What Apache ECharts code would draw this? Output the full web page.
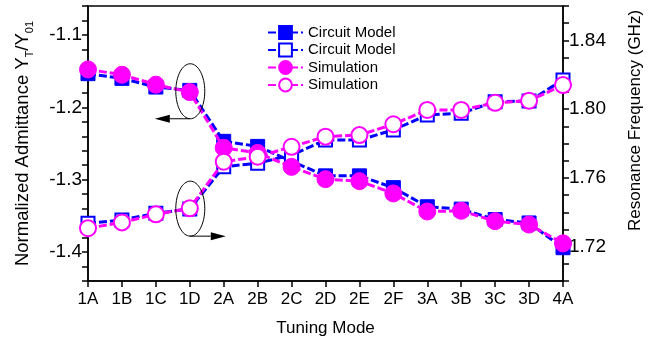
<!DOCTYPE html>
<html>
<head>
<meta charset="utf-8">
<script src="https://cdn.jsdelivr.net/npm/echarts@6/dist/echarts.min.js"></script>
<style>
html,body{margin:0;padding:0;background:#fff;}
#c{width:658px;height:345px;}
</style>
</head>
<body>
<div id="c"></div>
<script>
var categories = ['1A','1B','1C','1D','2A','2B','2C','2D','2E','2F','3A','3B','3C','3D','4A'];
var circuitAdm = [-1.1535,-1.160,-1.172,-1.1766,-1.247,-1.254,-1.2745,-1.2947,-1.2947,-1.311,-1.3374,-1.3407,-1.355,-1.3598,-1.394];
var simAdm     = [-1.1476,-1.155,-1.1687,-1.179,-1.256,-1.263,-1.2823,-1.2993,-1.302,-1.319,-1.344,-1.343,-1.3573,-1.362,-1.388];
var circuitFreq = [1.7336,1.7355,1.7394,1.7419,1.7665,1.7685,1.7733,1.7820,1.7820,1.7879,1.7966,1.7976,1.8043,1.8047,1.8170];
var simFreq     = [1.7307,1.7341,1.7388,1.7423,1.7694,1.7723,1.7781,1.7840,1.7849,1.7912,1.7995,1.7995,1.8037,1.8049,1.8140];
var legendLabels = {cmA:'Circuit Model', cmF:'Circuit Model', simA:'Simulation', simF:'Simulation'};

var BLUE = '#0000FF', MAG = '#FF00FF', FONT = 'Liberation Sans';
var chart = echarts.init(document.getElementById('c'));

function mkSeries(name, data, yIdx, color, symbol, size, filled, z) {
  return {
    name: name, type: 'line', data: data, yAxisIndex: yIdx,
    symbol: symbol, symbolSize: size, showAllSymbol: true, z: z,
    lineStyle: {color: color, width: 3, type: [8, 3]},
    itemStyle: {color: filled ? color : '#fff', borderColor: color, borderWidth: filled ? 1 : 2},
    emphasis: {disabled: true}, animation: false
  };
}

chart.setOption({
  animation: false,
  grid: {left: 88, right: 95, top: 6, bottom: 64, show: true, borderColor: '#000', borderWidth: 1.5, backgroundColor: 'transparent'},
  legend: {
    orient: 'vertical', left: 267, top: 25, padding: 0, itemWidth: 35, itemHeight: 16, itemGap: 2.5,
    data: ['cmA','cmF','simA','simF'],
    formatter: function (n) { return legendLabels[n]; },
    textStyle: {fontFamily: FONT, fontSize: 15, color: '#000'},
    selectedMode: false
  },
  xAxis: {
    type: 'category', data: categories, boundaryGap: false,
    name: 'Tuning Mode', nameLocation: 'middle', nameGap: 39,
    nameTextStyle: {fontFamily: FONT, fontSize: 17, color: '#000'},
    axisLine: {lineStyle: {color: '#000', width: 1.5}},
    axisTick: {show: true, length: 6, lineStyle: {color: '#000', width: 1.5}},
    axisLabel: {fontFamily: FONT, fontSize: 17, color: '#000', margin: 10, interval: 0},
    splitLine: {show: false}
  },
  yAxis: [{
    type: 'value', min: -1.44, max: -1.06, interval: 0.02, position: 'left',
    name: '{a|Normalized Admittance Y}{s|T}{a|/Y}{s|01}', nameLocation: 'middle', nameGap: 53, nameRotate: 90,
    nameTextStyle: {rich: {
      a: {fontFamily: FONT, fontSize: 18.5, color: '#000', lineHeight: 24, verticalAlign: 'middle'},
      s: {fontFamily: FONT, fontSize: 11, color: '#000', lineHeight: 12, verticalAlign: 'bottom'}
    }},
    axisLine: {show: true, lineStyle: {color: '#000', width: 1.5}},
    axisTick: {show: true, length: 6, lineStyle: {color: '#000', width: 1.5}},
    axisLabel: {fontFamily: FONT, fontSize: 19, color: '#000', margin: 6,
      formatter: function (v) { var t = v * 10; return Math.abs(t - Math.round(t)) < 1e-6 ? v.toFixed(1) : ''; }},
    splitLine: {show: false}
  }, {
    type: 'value', min: 1.70, max: 1.86, interval: 0.01, position: 'right',
    name: 'Resonance Frequency (GHz)', nameLocation: 'middle', nameGap: 64, nameRotate: 90,
    nameTextStyle: {fontFamily: FONT, fontSize: 17, color: '#000', padding: [0, 0, 0, 46]},
    axisLine: {show: true, lineStyle: {color: '#000', width: 1.5}},
    axisTick: {show: true, length: 6, lineStyle: {color: '#000', width: 1.5}},
    axisLabel: {fontFamily: FONT, fontSize: 19, color: '#000', margin: 6,
      formatter: function (v) { var t = Math.round(v * 100); return (Math.abs(v * 100 - t) < 1e-6 && t % 4 === 0) ? v.toFixed(2) : ''; }},
    splitLine: {show: false}
  }],
  series: [
    mkSeries('cmA', circuitAdm, 0, BLUE, 'rect', 14, true, 2),
    mkSeries('cmF', circuitFreq, 1, BLUE, 'rect', 13, false, 3),
    mkSeries('simA', simAdm, 0, MAG, 'circle', 17, true, 4),
    mkSeries('simF', simFreq, 1, MAG, 'circle', 16, false, 5)
  ]
});

// annotations: ellipses around 1D points with arrows pointing to the relevant axis
var pA = chart.convertToPixel({xAxisIndex: 0, yAxisIndex: 0}, ['1D', (circuitAdm[3] + simAdm[3]) / 2]);
var pF = chart.convertToPixel({xAxisIndex: 0, yAxisIndex: 1}, ['1D', (circuitFreq[3] + simFreq[3]) / 2]);
var rx = 14.5, ry = 27.5;
function arrow(x0, y0, x1, dir) {
  var headL = 15, headH = 4;
  return [
    {type: 'line', shape: {x1: x0, y1: y0, x2: x1 - dir * headL, y2: y0}, style: {stroke: '#000', lineWidth: 1}, z: 100},
    {type: 'polygon', shape: {points: [[x1, y0], [x1 - dir * headL, y0 - headH], [x1 - dir * headL, y0 + headH]]}, style: {fill: '#000'}, z: 100}
  ];
}
var g = [
  {type: 'ellipse', shape: {cx: pA[0] + 0.5, cy: pA[1], rx: rx, ry: ry}, style: {fill: 'none', stroke: '#000', lineWidth: 1}, z: 100},
  {type: 'ellipse', shape: {cx: pF[0] + 0.5, cy: pF[1], rx: rx, ry: ry}, style: {fill: 'none', stroke: '#000', lineWidth: 1}, z: 100}
].concat(arrow(pA[0], pA[1] + ry, pA[0] - 35, -1)).concat(arrow(pF[0], pF[1] + ry, pF[0] + 36, 1));
chart.setOption({graphic: g});
</script>
</body>
</html>
